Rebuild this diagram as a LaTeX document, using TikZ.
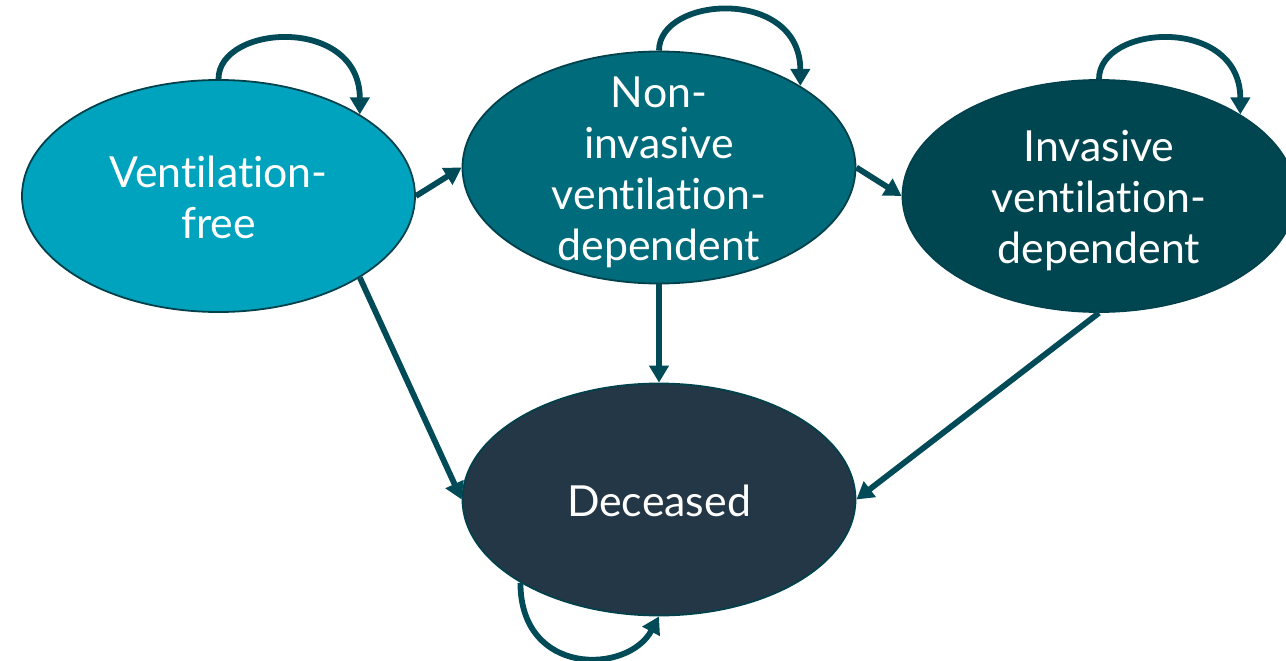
\documentclass[tikz,border=0pt]{standalone}
\usepackage{fontspec}
\setmainfont{Lato}[Ligatures={NoCommon,NoContextual,NoRare}]
\usetikzlibrary{shapes.geometric,arrows.meta}
\definecolor{cvf}{HTML}{00A3BD}
\definecolor{cni}{HTML}{006B7A}
\definecolor{cinv}{HTML}{004650}
\definecolor{cdec}{HTML}{243746}
\definecolor{cedge}{HTML}{00414C}
\definecolor{carrow}{HTML}{004B57}
\newcommand{\myti}{t\kern0pt i}
\begin{document}
\begin{tikzpicture}[x=1pt,y=-1pt,
  state/.style={ellipse, draw=cedge, line width=1.8pt, minimum width=393pt, minimum height=232pt, inner sep=0pt},
  lbl/.style={text=white, align=center, inner sep=0pt, font=\fontsize{42.8}{51}\selectfont},
  conn/.style={draw=carrow, line width=5.8pt, -{Triangle[length=17pt,width=19pt]}}]
\useasboundingbox (0,0) rectangle (1286,661);
\node[state, fill=cvf]  (vf)  at (218.5,196) {};
\node[state, fill=cni]  (ni)  at (659,167.5) {};
\node[state, fill=cinv] (inv) at (1099,196) {};
\node[state, fill=cdec] (dec) at (659,499.5) {};
\node[lbl] (vft)  at (218.5,197) {Ven\myti la\myti on-\\free};
\node[lbl] (nit)  at (659,172) {Non-\\invasive\\ven\myti la\myti on-\\dependent};
\node[lbl] (invt) at (1099,201) {Invasive\\ven\myti la\myti on-\\dependent};
\node[lbl] (dect) at (659,501) {Deceased};
% transitions
\draw[conn] (vf.east) -- (ni.west);
\draw[conn] (ni.east) -- (inv.west);
\draw[conn] (vf.-30.5) -- (dec.west);
\draw[conn] (ni.south) -- (dec.north);
\draw[conn] (inv.south) -- (dec.east);
% self loops
\draw[conn] (vf.north) .. controls +(0,-55) and +(0,-99) .. (vf.30.5);
\draw[conn] (ni.north) .. controls +(0,-55) and +(0,-99) .. (ni.30.5);
\draw[conn] (inv.north) .. controls +(0,-55) and +(0,-99) .. (inv.30.5);
\draw[conn] (dec.-149.5) .. controls +(0,94) and +(-31,58) .. (dec.south);
\end{tikzpicture}
\end{document}
